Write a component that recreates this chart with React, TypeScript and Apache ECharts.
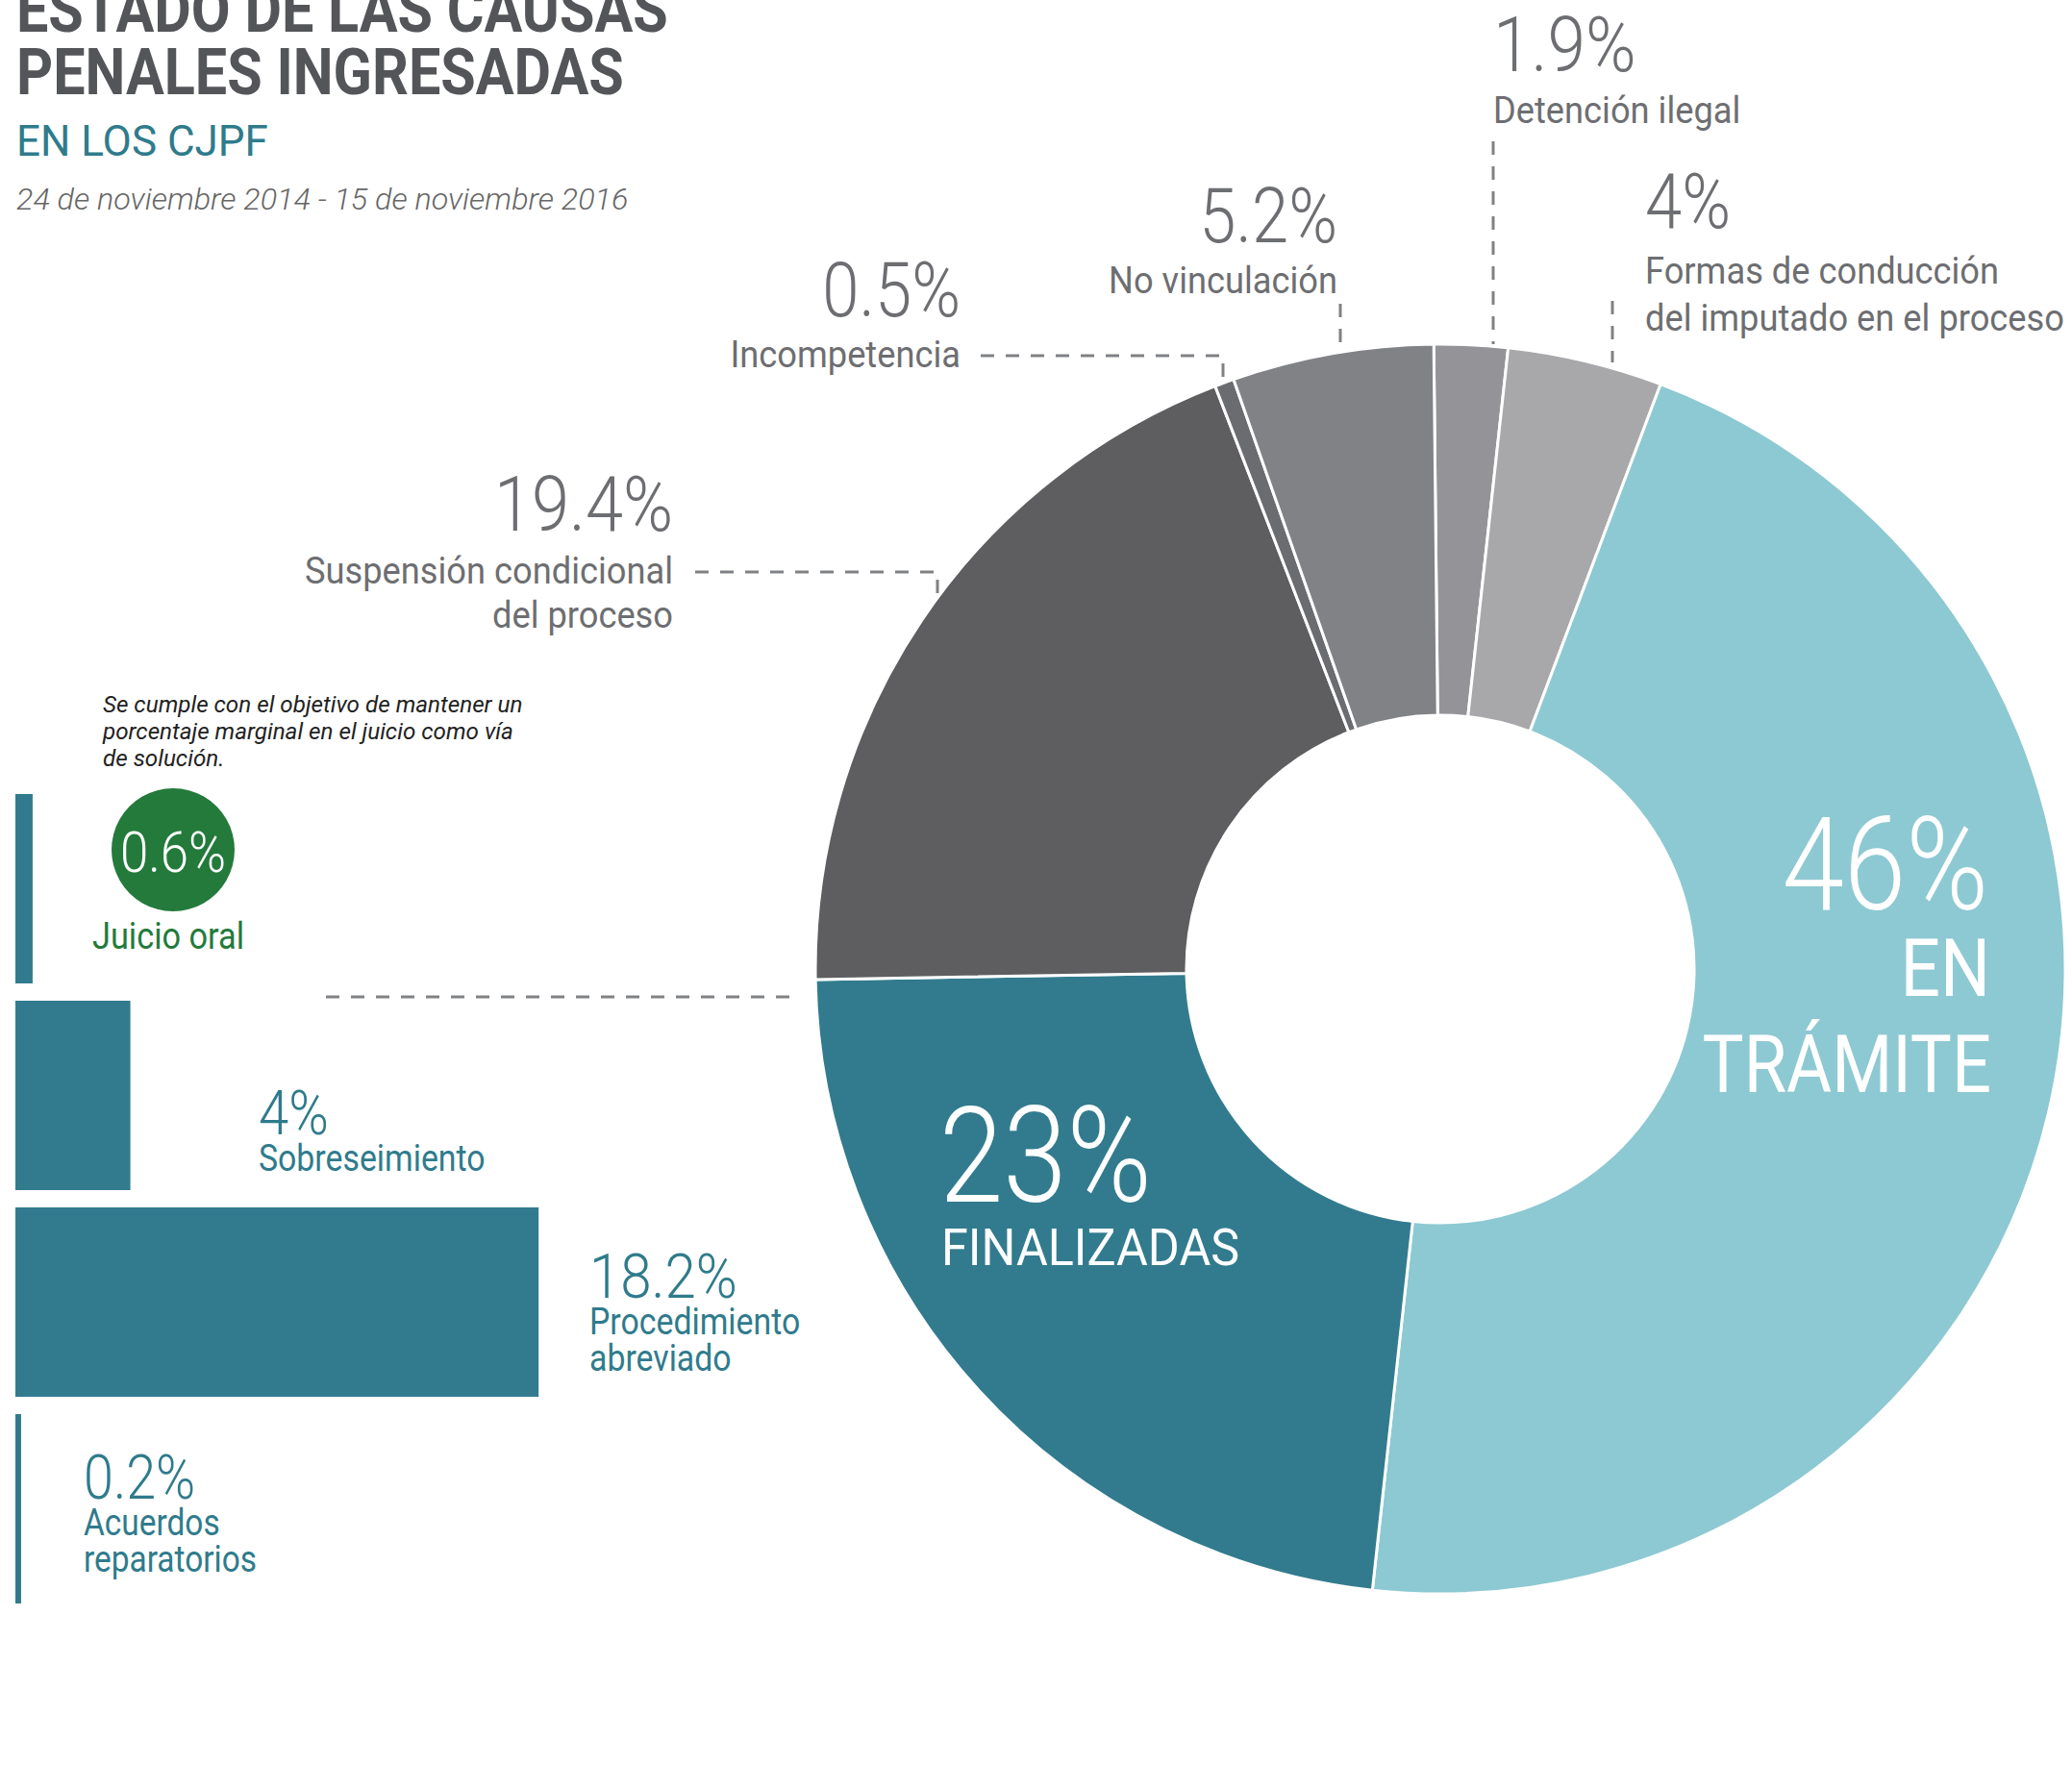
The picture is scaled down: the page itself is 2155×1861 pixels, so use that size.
import React, { useEffect, useRef } from "react";
import * as echarts from "echarts";

const W = 2155;
const H = 1861;

// ---- data ----
const pieCategories = [
  "Detención ilegal",
  "Formas de conducción del imputado en el proceso",
  "En trámite",
  "Finalizadas",
  "Suspensión condicional del proceso",
  "Incompetencia",
  "No vinculación",
];
const pieValues = [1.9, 4, 46, 23, 19.4, 0.5, 5.2];
const pieColors = ["#949498", "#a8a8ab", "#8dc9d2", "#327b8e", "#5e5e60", "#6b6c70", "#818285"];

const barCategories = ["Juicio oral", "Sobreseimiento", "Procedimiento abreviado", "Acuerdos reparatorios"];
const barValues = [0.6, 4, 18.2, 0.2];

const titleLines = ["ESTADO DE LAS CAUSAS", "PENALES INGRESADAS"];
const subtitle = "EN LOS CJPF";
const period = "24 de noviembre 2014 - 15 de noviembre 2016";
const noteLines = [
  "Se cumple con el objetivo de mantener un",
  "porcentaje marginal en el juicio como vía",
  "de solución.",
];

const FONT = "Roboto, 'Noto Sans', sans-serif";
const SX = 0.86;
const SXD = 0.93; // description labels
const GREY = "#6d6e71";
const TEAL = "#2f7b8c";
const GREEN = "#237a3b";
const DASH = "#808184";

const pct = (v: number) => `${v}%`;

function txt(text: string, x: number, base: number, size: number, fill: string, o: any = {}) {
  const sx = o.sx ?? SX;
  return {
    type: "text",
    x,
    y: base - 0.355 * size,
    scaleX: sx,
    silent: true,
    z: 100,
    style: {
      text,
      fill,
      fontFamily: FONT,
      fontSize: size,
      fontWeight: o.w ?? "normal",
      fontStyle: o.italic ? "italic" : "normal",
      align: o.align ?? "left",
      verticalAlign: "middle",
    },
  };
}

function dashed(points: number[][]) {
  return {
    type: "polyline",
    silent: true,
    z: 50,
    shape: { points },
    style: { stroke: DASH, lineWidth: 3, lineDash: [14, 12], fill: null },
  };
}

export default function App() {
  const ref = useRef<HTMLDivElement>(null);
  useEffect(() => {
    if (!ref.current) return;
    const chart = echarts.init(ref.current, undefined, { renderer: "svg", width: W, height: H });

    const idx = (name: string) => pieCategories.indexOf(name);
    const pv = (name: string) => pct(pieValues[idx(name)]);
    const bv = (name: string) => pct(barValues[barCategories.indexOf(name)]);

    const graphics: any[] = [
      // titles
      txt(titleLines[0], 17, 33, 67, "#545558", { w: "bold", sx: 0.885 }),
      txt(titleLines[1], 17, 98, 67, "#545558", { w: "bold", sx: 0.885 }),
      txt(subtitle, 17, 163, 44, TEAL, { sx: 1 }),
      txt(period, 17, 218, 32, "#666666", { sx: 1.01, italic: true, w: 300 }),

      // note
      ...noteLines.map((l, i) => txt(l, 107, 742 + i * 28, 24, "#222222", { italic: true, sx: 1.01 })),

      // pie labels (grey)
      txt(pv("Suspensión condicional del proceso"), 700, 553, 80, GREY, { align: "right", w: 300, sx: 0.88 }),
      txt("Suspensión condicional", 700, 607, 39, GREY, { align: "right", sx: SXD }),
      txt("del proceso", 700, 653, 39, GREY, { align: "right", sx: SXD }),
      dashed([[723, 595], [975, 595], [975, 622]]),

      txt(pv("Incompetencia"), 999, 330, 80, GREY, { align: "right", w: 300 }),
      txt("Incompetencia", 999, 382, 39, GREY, { align: "right", sx: SXD }),
      dashed([[1020, 370], [1272, 370], [1272, 398]]),

      txt(pv("No vinculación"), 1391, 253, 80, GREY, { align: "right", w: 300 }),
      txt("No vinculación", 1391, 305, 39, GREY, { align: "right", sx: SXD }),
      dashed([[1394, 316], [1394, 358]]),

      txt(pv("Detención ilegal"), 1553, 75, 80, GREY, { w: 300, sx: 0.89 }),
      txt("Detención ilegal", 1553, 128, 39, GREY, { sx: SXD }),
      dashed([[1553, 147], [1553, 358]]),

      txt(pv("Formas de conducción del imputado en el proceso"), 1711, 238, 80, GREY, { w: 300 }),
      txt("Formas de conducción", 1711, 295, 39, GREY, { sx: SXD }),
      txt("del imputado en el proceso", 1711, 344, 39, GREY, { sx: SXD }),
      dashed([[1677, 313], [1677, 377]]),

      // big labels inside donut
      txt(pv("En trámite"), 2068, 948, 135, "#ffffff", { align: "right", w: 300 }),
      txt("EN", 2070, 1037, 83, "#ffffff", { align: "right", sx: 0.88 }),
      txt("TRÁMITE", 2071, 1137, 83, "#ffffff", { align: "right", sx: 0.87 }),
      txt(pv("Finalizadas"), 977, 1252, 139, "#ffffff", { w: 300 }),
      txt("FINALIZADAS", 979, 1317, 53, "#ffffff", { sx: 0.95 }),

      // connector bars -> donut
      dashed([[339, 1037], [826, 1037]]),

      // bar labels
      {
        type: "circle",
        silent: true,
        z: 90,
        shape: { cx: 180, cy: 884, r: 64 },
        style: { fill: GREEN },
      },
      txt(bv("Juicio oral"), 180, 908, 60, "#ffffff", { align: "center", w: 300, sx: 0.88 }),
      txt("Juicio oral", 96, 988, 39, GREEN, { sx: 0.88 }),

      txt(bv("Sobreseimiento"), 269, 1181, 64, TEAL, { w: 300, sx: 0.88 }),
      txt("Sobreseimiento", 269, 1219, 38, TEAL, { sx: 0.89 }),

      txt(bv("Procedimiento abreviado"), 613, 1351, 64, TEAL, { w: 300, sx: 0.91 }),
      txt("Procedimiento", 613, 1389, 38, TEAL, { sx: 0.89 }),
      txt("abreviado", 613, 1427, 38, TEAL, { sx: 0.89 }),

      txt(bv("Acuerdos reparatorios"), 87, 1560, 64, TEAL, { w: 300, sx: 0.87 }),
      txt("Acuerdos", 87, 1598, 38, TEAL, { sx: 0.88 }),
      txt("reparatorios", 87, 1636, 38, TEAL, { sx: 0.88 }),
    ];

    chart.setOption({
      animation: false,
      backgroundColor: "#ffffff",
      grid: { left: 16, top: 817, width: 598, height: 860, containLabel: false },
      xAxis: { type: "value", min: 0, max: 20, show: false },
      yAxis: { type: "category", data: barCategories, inverse: true, show: false },
      series: [
        {
          type: "bar",
          data: barValues,
          barWidth: 197,
          silent: true,
          itemStyle: { color: "#327b8e" },
          label: { show: false },
        },
        {
          type: "pie",
          center: [1498, 1008],
          radius: [264, 650],
          startAngle: 90.6,
          clockwise: true,
          silent: true,
          avoidLabelOverlap: false,
          label: { show: false },
          labelLine: { show: false },
          emphasis: { disabled: true },
          itemStyle: { borderColor: "#ffffff", borderWidth: 3 },
          data: pieValues.map((v, i) => ({
            name: pieCategories[i],
            value: v,
            itemStyle: { color: pieColors[i] },
          })),
        },
      ],
      graphic: { elements: graphics },
    });

    return () => chart.dispose();
  }, []);

  return (
    <div
      ref={ref}
      style={{ position: "absolute", left: 0, top: 0, width: W, height: H, background: "#fff" }}
    />
  );
}
